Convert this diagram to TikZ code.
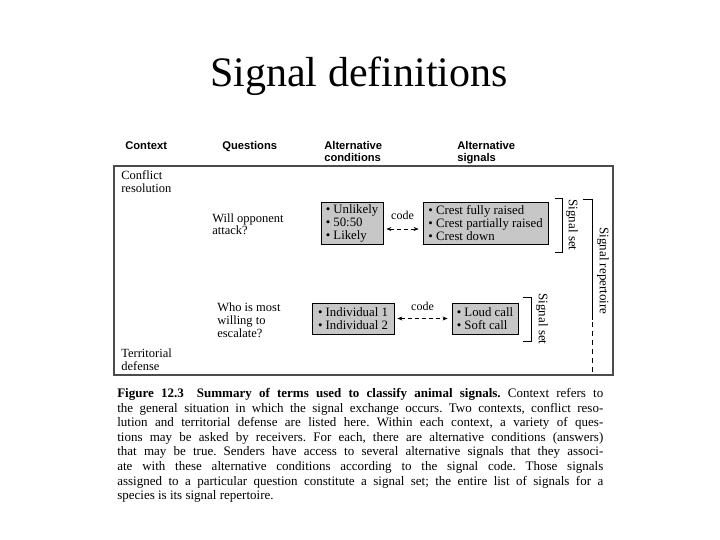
\documentclass[tikz,border=0pt]{standalone}
\usepackage{fontspec}
\setmainfont{Liberation Serif}
\setsansfont{Liberation Sans}
\usetikzlibrary{arrows.meta}
\definecolor{boxgray}{gray}{0.78}
\definecolor{framegray}{gray}{0.3}

\begin{document}
\begin{tikzpicture}[x=1pt, y=-1pt, line width=0.6pt,
  colhead/.style={font=\sffamily\bfseries\fontsize{11.2}{12}\selectfont, anchor=base west, align=left, inner sep=0pt},
  txt/.style={font=\fontsize{12.5}{13}\selectfont, anchor=base west, align=left, inner sep=0pt},
  optbox/.style={draw=black, line width=0.8pt, fill=boxgray, font=\fontsize{12.8}{13}\selectfont,
    align=left, inner sep=0pt},
  codearrow/.style={dash pattern=on 4pt off 3pt, {Stealth[length=5pt,width=4pt]}-{Stealth[length=5pt,width=4pt]}},
  setlabel/.style={font=\fontsize{13}{13}\selectfont, rotate=-90, inner sep=0pt},
]
  \useasboundingbox (0,0) rectangle (720,540);
  \node[font=\fontsize{42}{48}\selectfont, anchor=base, inner sep=0pt] (title) at (359,87) {Signal definitions};

  % column heads (base = last line)
  \node[colhead] (hcontext) at (125,150) {Context};
  \node[colhead] (hquestion) at (222,150) {Questions};
  \node[colhead] (hcondition) at (324,162) {Alternative\\conditions};
  \node[colhead] (hsignal) at (457,162) {Alternative\\signals};

  \draw[framegray, line width=1.2pt] (114,166) rectangle (613,375);

  \node[txt] (conflict) at (121,193) {Conflict\\resolution};
  \node[txt] (territory) at (121,370) {Territorial\\defense};
  \node[txt] (qattack) at (212,235) {Will opponent\\attack?};
  \node[txt] (qescalate) at (217,337) {Who is most\\willing to\\escalate?};

  % conditions and signals
  \node[optbox, minimum width=62pt, minimum height=42pt] (condattack) at (352,223) {• Unlikely\\• 50:50\\• Likely};
  \node[optbox, minimum width=125pt, minimum height=42pt] (sigattack) at (485.5,223) {• Crest fully raised\\• Crest partially raised\\• Crest down};
  \node[optbox, minimum width=82pt, minimum height=31pt] (condescalate) at (353,318.5) {• Individual 1\\• Individual 2};
  \node[optbox, minimum width=66pt, minimum height=31pt] (sigescalate) at (485,318.5) {• Loud call\\• Soft call};

  \draw[codearrow] ([xshift=3pt, yshift=-6pt]condattack.east) -- ([xshift=-4pt, yshift=-6pt]sigattack.west)
    node[midway, above=9pt, font=\fontsize{12}{13}\selectfont, inner sep=0pt] (codeattack) {code};
  \draw[codearrow] ([xshift=3pt]condescalate.east) -- ([xshift=-4pt]sigescalate.west)
    node[midway, above=8pt, font=\fontsize{12}{13}\selectfont, inner sep=0pt] (codeescalate) {code};

  % brackets
  \draw (555,198) -- (562,198) -- (562,252) -- (555,252);
  \node[setlabel] (setattack) at (572,225) {Signal set};
  \draw (523,297) -- (531,297) -- (531,341) -- (523,341);
  \node[setlabel] (setescalate) at (542,319) {Signal set};
  \draw (583,199) -- (592,199) -- (592,320);
  \draw[dash pattern=on 5pt off 4pt] (592,322) -- (592,372);
  \node[setlabel] (repertoire) at (603,271) {Signal repertoire};

  % caption
  \node[font=\fontsize{13}{14.6}\selectfont, anchor=north west, inner sep=0pt, text width=486pt, align=justify] (caption) at (117,388)
    {\frenchspacing\textbf{Figure 12.3\quad Summary of terms used to classify animal signals.} Context refers to\linebreak
     the general situation in which the signal exchange occurs. Two contexts, conflict reso-\linebreak
     lution and territorial defense are listed here. Within each context, a variety of ques-\linebreak
     tions may be asked by receivers. For each, there are alternative conditions (answers)\linebreak
     that may be true. Senders have access to several alternative signals that they associ-\linebreak
     ate with these alternative conditions according to the signal code. Those signals\linebreak
     assigned to a particular question constitute a signal set; the entire list of signals for a\linebreak
     species is its signal repertoire.};
\end{tikzpicture}
\end{document}
